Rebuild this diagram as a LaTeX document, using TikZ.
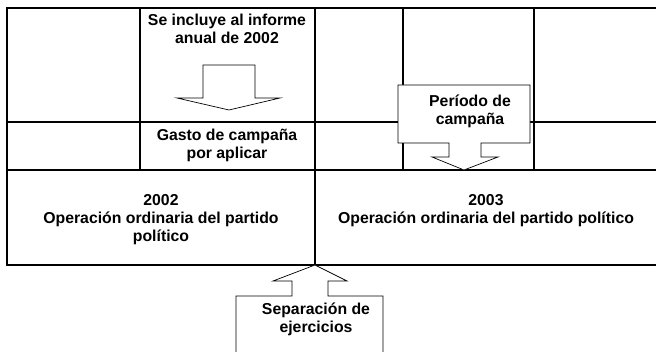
\documentclass[tikz,border=0pt]{standalone}
\usepackage{fontspec}
\setmainfont{Liberation Sans}
\begin{document}
\begin{tikzpicture}[x=1pt,y=-1pt,
    grid/.style={line width=2pt,line cap=rect},
    callout/.style={draw,fill=white,line width=0.7pt,line join=miter},
    lbl/.style={font=\fontsize{15.8}{18}\selectfont\bfseries,align=center,inner sep=0pt}]
    \useasboundingbox (0,0) rectangle (656,352);
    % Table
    \foreach \y in {8.5,122,170,265} \draw[grid] (7,\y) -- (660,\y);
    \draw[grid] (7,8.5) -- (7,265);
    \foreach \x/\yb in {140/170,315/265,403/170,534/170} \draw[grid] (\x,8.5) -- (\x,\yb);
    % Arrow to the 2002 report
    \draw[callout] (203,65) -- (255,65) -- (255,98) -- (280,98) -- (229,110) -- (177,98) -- (203,98) -- cycle;
    % Campaign period callout
    \draw[callout] (398,85) -- (530,85) -- (530,143) -- (481,143) -- (481,157) -- (498,157) -- (464,170)
        -- (432,157) -- (449,157) -- (449,143) -- (398,143) -- cycle;
    % Year separation callout
    \draw[callout] (236,362) -- (236,296) -- (292,296) -- (292,281) -- (273,281) -- (315,265) -- (347,281)
        -- (328,281) -- (328,296) -- (383,296) -- (383,362) -- cycle;
    % Labels
    \node[lbl] (informe) at (227,29) {Se incluye al informe\\anual de 2002};
    \node[lbl] (gasto) at (227,145) {Gasto de campaña\\por aplicar};
    \node[lbl] (periodo) at (470,111) {Período de\\campaña};
    \node[lbl] (op2002) at (161,220) {2002\\Operación ordinaria del partido\\político};
    \node[lbl] (op2003) at (486,211) {2003\\Operación ordinaria del partido político};
    \node[lbl] (separa) at (316,319) {Separación de\\ejercicios};
\end{tikzpicture}
\end{document}
